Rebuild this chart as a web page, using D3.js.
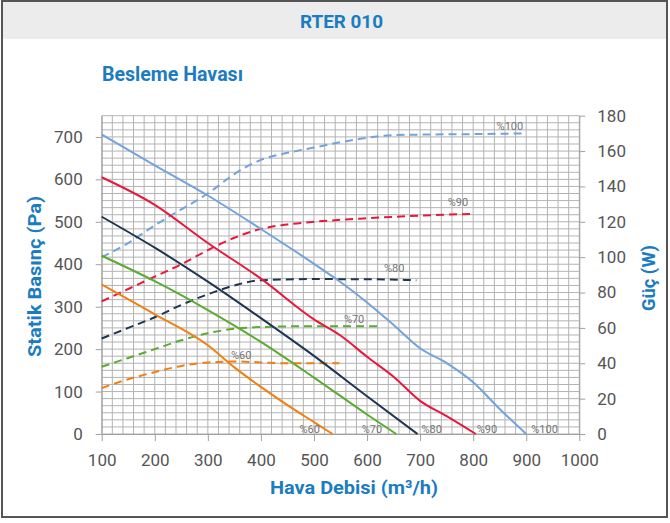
<!DOCTYPE html>
<html>
<head>
<meta charset="utf-8">
<script src="https://cdn.jsdelivr.net/npm/d3@7"></script>
<style>
  body { margin: 0; background: #fff; }
  text { font-family: Roboto, "DejaVu Sans", sans-serif; }
</style>
</head>
<body>
<div id="chartArea"></div>
<script>
// pressure curves (m3/h, Pa)
var p100 = [[100,706],[200,633],[300,562],[400,483],[500,401],[550,358],[600,310],[650,257],[700,202],[750,167],[800,122],[850,59],[900,0]];
var p90 = [[100,605],[200,540],[300,450],[400,366],[500,270],[550,232],[600,182],[650,135],[700,78],[750,42],[805,0]];
var p80 = [[100,512],[200,439],[300,359],[400,273],[500,184],[600,89],[695,0]];
var p70 = [[100,420],[200,360],[300,292],[400,217],[500,133],[600,46],[655,0]];
var p60 = [[100,352],[200,282],[300,209],[350,157],[400,111],[450,68],[500,28],[535,0]];

// power curves (m3/h, W)
var w100 = [[100,100],[150,108],[200,118],[250,127],[300,136],[350,147],[400,155],[450,159],[500,162],[550,165],[600,167.5],[650,169],[700,169.3],[800,169.6],[900,170]];
var w90 = [[100,75],[150,82],[200,89],[250,96],[300,104],[350,111],[400,116],[450,118.5],[500,120],[600,122],[700,123.5],[800,124.5]];
var w80 = [[100,54],[150,60],[200,66],[250,73],[300,79],[350,84],[400,87],[500,87.6],[600,87.5],[693,87]];
var w70 = [[100,38],[150,43],[200,48],[250,53],[300,57],[350,59.5],[400,60.5],[500,61],[625,61]];
var w60 = [[100,26],[150,31],[200,35],[250,38.5],[300,40.5],[350,41],[400,40.5],[450,40],[548,40]];

var xTicks = [100,200,300,400,500,600,700,800,900,1000];
var yTicks = [0,100,200,300,400,500,600,700];
var wTicks = [0,20,40,60,80,100,120,140,160,180];
var speeds = ['%100','%90','%80','%70','%60'];
var colors = ['#72a3dc','#e8183d','#1e3652','#5aab31','#f27f12'];

var W = 670, H = 523;
var plotL = 101.7, plotR = 579.3, plotT = 115.7, plotB = 434;

var svg = d3.select('#chartArea').append('svg')
    .attr('width', W)
    .attr('height', H);

// frame + header
svg.append('rect').attr('x', 2).attr('y', 1).attr('width', 665).attr('height', 38).attr('fill', '#ececec');
svg.append('rect').attr('x', 2).attr('y', 1).attr('width', 665).attr('height', 516)
    .attr('fill', 'none').attr('stroke', '#555').attr('stroke-width', 2);

svg.append('text').attr('x', 300).attr('y', 27.5)
    .attr('textLength', 83).attr('lengthAdjust', 'spacingAndGlyphs')
    .attr('font-size', 18).attr('font-weight', 'bold').attr('fill', '#1b7cc0')
    .text('RTER 010');

svg.append('text').attr('x', 102).attr('y', 81)
    .attr('textLength', 141).attr('lengthAdjust', 'spacingAndGlyphs')
    .attr('font-size', 19.5).attr('font-weight', 'bold').attr('fill', '#1b7cc0')
    .text('Besleme Havası');

var xScale = d3.scaleLinear().domain([100,1000]).range([plotL, plotR]);
var yScale = d3.scaleLinear().domain([0,750]).range([plotB, plotT]);
var wScale = d3.scaleLinear().domain([0,180]).range([plotB, plotT]);

// grid
var g = svg.append('g').attr('stroke', '#b3b3b3').attr('stroke-width', 1);
g.selectAll('.vg').data(d3.range(100, 1001, 20)).enter().append('line')
    .attr('x1', function (d) { return xScale(d); })
    .attr('x2', function (d) { return xScale(d); })
    .attr('y1', plotT).attr('y2', plotB);
g.selectAll('.hg').data(d3.range(0, 181, 4)).enter().append('line')
    .attr('x1', plotL).attr('x2', plotR)
    .attr('y1', function (d) { return wScale(d); })
    .attr('y2', function (d) { return wScale(d); });

// axes
function styleAxis(sel) {
    sel.select('.domain').attr('stroke', '#a0a0a0');
    sel.selectAll('.tick line').attr('stroke', '#a0a0a0');
    sel.selectAll('.tick text').attr('fill', '#555').attr('font-size', 17)
        .attr('font-family', 'Roboto, sans-serif');
}
svg.append('g').attr('transform', 'translate(0,' + plotB + ')')
    .call(d3.axisBottom(xScale).tickValues(xTicks).tickFormat(d3.format('d'))
        .tickSize(7).tickSizeOuter(0).tickPadding(13))
    .call(styleAxis);
svg.append('g').attr('transform', 'translate(' + plotL + ',0)')
    .call(d3.axisLeft(yScale).tickValues(yTicks).tickSize(6).tickSizeOuter(0).tickPadding(13))
    .call(styleAxis);
svg.append('g').attr('transform', 'translate(' + plotR + ',0)')
    .call(d3.axisRight(wScale).tickValues(wTicks).tickSize(6).tickSizeOuter(0).tickPadding(12))
    .call(styleAxis);

// axis titles
svg.append('text').attr('x', 270).attr('y', 494)
    .attr('textLength', 168).attr('lengthAdjust', 'spacingAndGlyphs')
    .attr('font-size', 19).attr('font-weight', 'bold').attr('fill', '#1b7cc0')
    .text('Hava Debisi (m³/h)');
svg.append('text').attr('transform', 'translate(41,357) rotate(-90)')
    .attr('textLength', 161).attr('lengthAdjust', 'spacingAndGlyphs')
    .attr('font-size', 19).attr('font-weight', 'bold').attr('fill', '#1b7cc0')
    .text('Statik Basınç (Pa)');
svg.append('text').attr('transform', 'translate(655,311) rotate(-90)')
    .attr('textLength', 66).attr('lengthAdjust', 'spacingAndGlyphs')
    .attr('font-size', 19).attr('font-weight', 'bold').attr('fill', '#1b7cc0')
    .text('Güç (W)');

// curves
var pLine = d3.line()
    .x(function (d) { return xScale(d[0]); })
    .y(function (d) { return yScale(d[1]); })
    .curve(d3.curveMonotoneX);
var wLine = d3.line()
    .x(function (d) { return xScale(d[0]); })
    .y(function (d) { return wScale(d[1]); })
    .curve(d3.curveMonotoneX);

var pSeries = [p100, p90, p80, p70, p60];
var wSeries = [w100, w90, w80, w70, w60];

svg.selectAll('.wline').data(wSeries).enter().append('path')
    .attr('class', 'wline')
    .attr('d', wLine)
    .attr('fill', 'none')
    .attr('stroke', function (d, i) { return colors[i]; })
    .attr('stroke-width', 2)
    .attr('stroke-dasharray', '8,5');

svg.selectAll('.pline').data(pSeries).enter().append('path')
    .attr('class', 'pline')
    .attr('d', pLine)
    .attr('fill', 'none')
    .attr('stroke', function (d, i) { return colors[i]; })
    .attr('stroke-width', 2);

// curve labels (bottom ones sit next to where each curve meets 0 Pa)
var pLabelShift = [5, 1, 4, -34.5, -33];
svg.selectAll('.plab').data(pSeries).enter().append('text')
    .attr('class', 'plab')
    .attr('x', function (d, i) { return xScale(d[d.length - 1][0]) + pLabelShift[i]; })
    .attr('y', plotB - 1)
    .attr('font-size', 11).attr('fill', '#777')
    .text(function (d, i) { return speeds[i]; });

// power labels sit above the end of each dashed curve
var wLabelDx = [-3, -5, -12, -16, -88];
var wLabelDy = [-3, -8, -8, -3, -4];
svg.selectAll('.wlab').data(wSeries).enter().append('text')
    .attr('class', 'wlab')
    .attr('x', function (d, i) { return xScale(d[d.length - 1][0]) + wLabelDx[i]; })
    .attr('y', function (d, i) { return wScale(d[d.length - 1][1]) + wLabelDy[i]; })
    .attr('text-anchor', 'end')
    .attr('font-size', 11).attr('fill', '#777')
    .text(function (d, i) { return speeds[i]; });
</script>
</body>
</html>
